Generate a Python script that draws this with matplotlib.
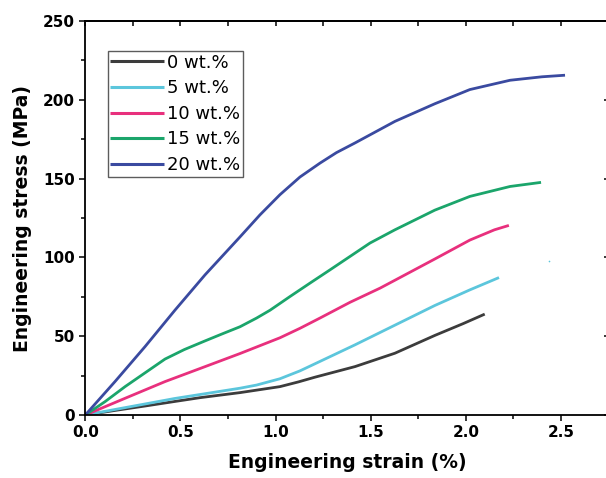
import matplotlib
matplotlib.use("Agg")
import matplotlib.pyplot as plt

plt.rcParams['font.family'] = ['DejaVu Sans']

labels = ["0 wt.%", "5 wt.%", "10 wt.%", "15 wt.%", "20 wt.%"]
colors = ["#3c3c3c", "#5cc6dc", "#e8307d", "#1ba56b", "#3a4aa0"]

strain_0 = [0.0, 0.156, 0.314, 0.471, 0.603, 0.813, 1.023, 1.12, 1.207, 1.417, 1.627, 1.837, 1.986, 2.099]
stress_0 = [0.0, 2.9, 5.7, 8.6, 11.0, 14.2, 18.0, 21.0, 24.0, 30.7, 39.2, 50.5, 58.0, 64.0]

strain_5 = [0.0, 0.156, 0.314, 0.471, 0.629, 0.813, 0.900, 1.023, 1.128, 1.207, 1.417, 1.627, 1.837, 2.021, 2.174]
stress_5 = [0.0, 3.5, 7.0, 10.5, 13.5, 17.0, 19.0, 23.0, 28.0, 32.5, 44.5, 57.0, 69.5, 79.4, 87.2]

strain_10 = [0.0, 0.209, 0.419, 0.603, 0.813, 1.023, 1.128, 1.233, 1.391, 1.549, 1.627, 1.837, 2.021, 2.150, 2.226]
stress_10 = [0.0, 10.6, 21.2, 29.5, 39.0, 49.0, 55.0, 61.5, 71.5, 80.5, 85.5, 99.0, 111.0, 117.5, 120.3]

strain_15 = [0.0, 0.104, 0.209, 0.419, 0.520, 0.629, 0.720, 0.813, 0.900, 0.971, 1.076, 1.181, 1.286,
             1.391, 1.496, 1.627, 1.837, 2.021, 2.232, 2.395]
stress_15 = [0.0, 8.5, 18.0, 35.5, 41.5, 47.0, 51.5, 56.0, 61.5, 66.5, 75.2, 83.7, 92.1,
             100.6, 109.1, 117.5, 130.0, 138.7, 145.0, 147.6]

strain_20 = [0.0, 0.156, 0.314, 0.471, 0.629, 0.813, 0.918, 1.023, 1.128, 1.233, 1.320, 1.417, 1.627,
             1.837, 2.021, 2.232, 2.400, 2.521]
stress_20 = [0.0, 21.2, 43.4, 66.5, 88.9, 113.0, 127.0, 139.8, 151.0, 159.8, 166.5, 172.6, 186.3,
             197.5, 206.5, 212.4, 214.6, 215.6]

strains = [strain_0, strain_5, strain_10, strain_15, strain_20]
stresses = [stress_0, stress_5, stress_10, stress_15, stress_20]

stray_x = [2.437]
stray_y = [97.4]

fig = plt.figure(figsize=(6.06, 4.78), dpi=100)
ax = fig.add_axes([85.3/606, 63/478, (608.6-85.3)/606, (415-21)/478])

for sx, sy, c, lab in zip(strains, stresses, colors, labels):
    ax.plot(sx, sy, color=c, lw=2.0, label=lab, solid_capstyle='butt', solid_joinstyle='round')
ax.plot(stray_x, stray_y, 'o', color=colors[1], ms=1.2, mec='none')

ax.set_xlim(0, 2.75)
ax.set_ylim(0, 250)
ax.set_xticks([0, 0.5, 1.0, 1.5, 2.0, 2.5])
ax.set_xticks([0.25, 0.75, 1.25, 1.75, 2.25, 2.75], minor=True)
ax.set_yticks([0, 50, 100, 150, 200, 250])
ax.set_yticks([25, 75, 125, 175, 225], minor=True)
ax.set_xticklabels(["0.0", "0.5", "1.0", "1.5", "2.0", "2.5"])

for sp in ax.spines.values():
    sp.set_linewidth(1.3)
    sp.set_color('black')

ax.tick_params(which='major', direction='out', length=4.5, width=1.1, labelsize=11, pad=3)
ax.tick_params(which='minor', direction='out', length=3, width=1.1)
for t in ax.get_xticklabels() + ax.get_yticklabels():
    t.set_fontweight('bold')

axt = ax.secondary_xaxis('top')
axt.set_xticks([0, 0.5, 1.0, 1.5, 2.0, 2.5])
axt.set_xticks([0.25, 0.75, 1.25, 1.75, 2.25, 2.75], minor=True)
axt.tick_params(which='both', direction='in', length=3.5, width=1.1, labeltop=False)
axr = ax.secondary_yaxis('right')
axr.set_yticks([0, 50, 100, 150, 200, 250])
axr.tick_params(which='major', direction='in', length=3.5, width=1.1, labelright=False)
axr.tick_params(which='minor', length=0)
axt.spines['top'].set_linewidth(1.3)
axr.spines['right'].set_linewidth(1.3)

ax.set_xlabel("Engineering strain (%)", fontsize=13.5, fontweight='bold', labelpad=9)
ax.set_ylabel("Engineering stress (MPa)", fontsize=13.5, fontweight='bold', labelpad=8)

leg = ax.legend(loc='upper left', bbox_to_anchor=((107.7-85.3)/523.3, (415-51)/394),
                fontsize=13, frameon=True, fancybox=False, handlelength=2.95,
                handletextpad=0.2, labelspacing=0.42, borderpad=0.15, borderaxespad=0.0)
leg.get_frame().set_edgecolor('#333333')
leg.get_frame().set_linewidth(1.0)
for l in leg.get_lines():
    l.set_linewidth(2.2)

fig.savefig("out.png", dpi=100)
